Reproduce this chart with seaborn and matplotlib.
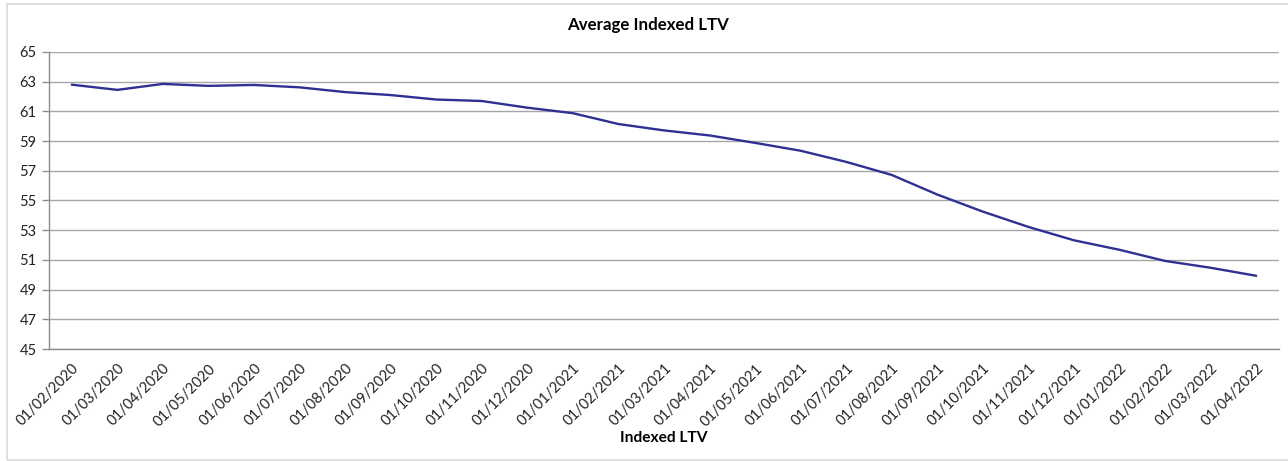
import matplotlib
matplotlib.use("Agg")
import matplotlib.pyplot as plt
import seaborn as sns
import pandas as pd
import numpy as np
from matplotlib.patches import Rectangle

dates = ["01/02/2020", "01/03/2020", "01/04/2020", "01/05/2020", "01/06/2020", "01/07/2020",
         "01/08/2020", "01/09/2020", "01/10/2020", "01/11/2020", "01/12/2020", "01/01/2021",
         "01/02/2021", "01/03/2021", "01/04/2021", "01/05/2021", "01/06/2021", "01/07/2021",
         "01/08/2021", "01/09/2021", "01/10/2021", "01/11/2021", "01/12/2021", "01/01/2022",
         "01/02/2022", "01/03/2022", "01/04/2022"]
ltv = [62.8, 62.45, 62.85, 62.72, 62.78, 62.62, 62.3, 62.1, 61.8, 61.7, 61.25, 60.88,
       60.15, 59.72, 59.38, 58.88, 58.35, 57.6, 56.72, 55.4, 54.25, 53.22, 52.32, 51.68,
       50.93, 50.47, 49.93]
yticks = [45, 47, 49, 51, 53, 55, 57, 59, 61, 63, 65]

sns.set_theme(style="white")
plt.rcParams['font.family'] = ['Lato', 'DejaVu Sans']

df = pd.DataFrame({"pos": np.arange(len(dates)), "ltv": ltv})

fig = plt.figure(figsize=(12.88, 4.61), dpi=100)
ax = fig.add_axes([49/1288, 1-349/461, (1279-49)/1288, (349-52)/461])

sns.lineplot(data=df, x="pos", y="ltv", ax=ax, color="#2E3192", linewidth=1.7)

ax.set_xlim(-0.5, len(dates)-0.5)
ax.set_ylim(45, 65)
ax.set_yticks(yticks)
ax.set_yticklabels([str(v) for v in yticks], fontsize=10.5, color="#222222")
ax.yaxis.grid(True, color="#A6A6A6", linewidth=1)
ax.xaxis.grid(False)
ax.set_axisbelow(True)

ax.set_xticks(np.arange(len(dates)))
ax.set_xticklabels(dates, rotation=45, ha="right", rotation_mode="anchor", fontsize=10.5, color="#222222")
ax.tick_params(axis="x", which="major", length=0, pad=9)
ax.set_xticks(np.arange(len(dates)+1) - 0.5, minor=True)
ax.tick_params(axis="x", which="minor", length=5, color="#8C8C8C", width=1, direction="out")
ax.tick_params(axis="y", length=5, color="#8C8C8C", width=1, direction="out", left=True, pad=4)

for s in ["top", "right"]:
    ax.spines[s].set_visible(False)
for s in ["left", "bottom"]:
    ax.spines[s].set_color("#8C8C8C")
    ax.spines[s].set_linewidth(1)

ax.set_ylabel("")
ax.set_xlabel("")
fig.text(648/1288, 1-25/461, "Average Indexed LTV", ha="center", va="center",
         fontsize=12.2, fontweight="bold", color="#000000")
fig.text(664/1288, 1-438/461, "Indexed LTV", ha="center", va="center",
         fontsize=11.2, fontweight="bold", color="#000000")

fig.patches.append(Rectangle((7/1288, 1/461), 1.2, 1-5/461, transform=fig.transFigure,
                             fill=False, edgecolor="#D9D9D9", linewidth=1.2))

fig.savefig("out.png", dpi=100)
